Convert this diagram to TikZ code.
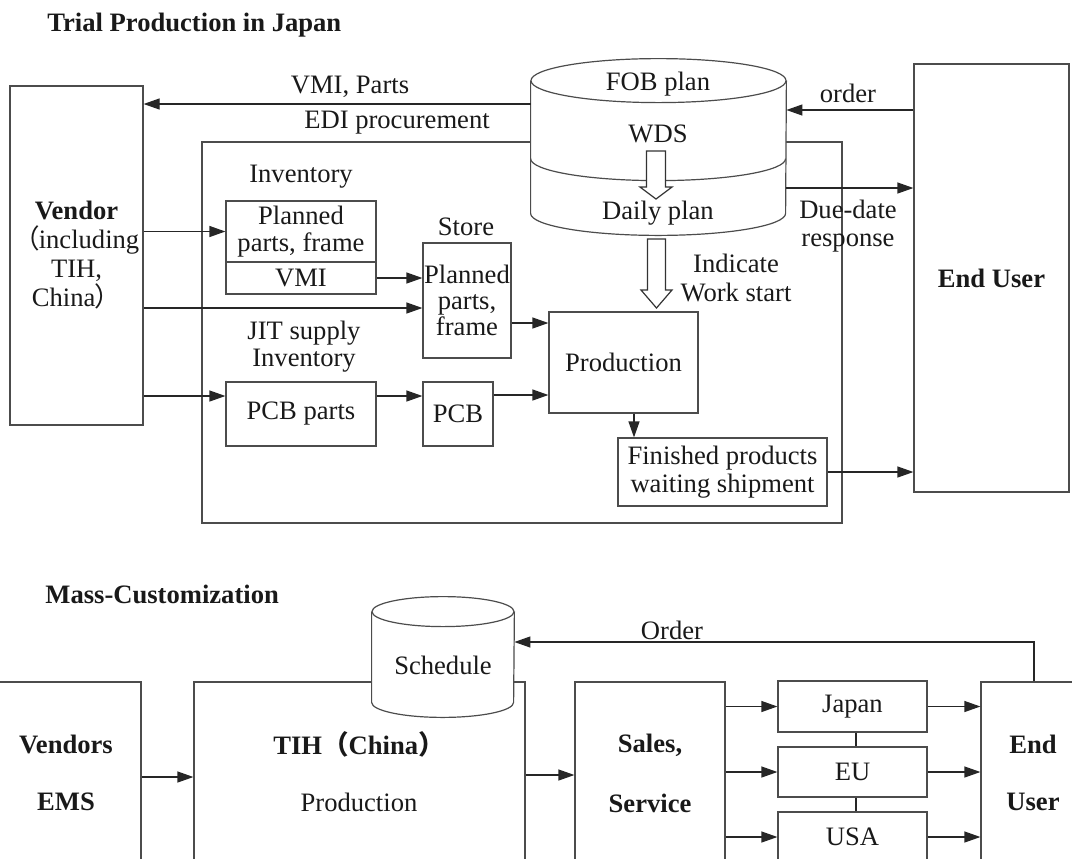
\documentclass[tikz,border=0pt]{standalone}
\usepackage{fontspec}
\setmainfont{Liberation Serif}
\newfontfamily\cjk{Noto Sans CJK SC}
\usetikzlibrary{arrows.meta,calc}

\begin{document}
\begin{tikzpicture}[x=0.5pt,y=-0.5pt,
  every node/.style={font=\fontsize{13.3pt}{13.6pt}\selectfont, inner sep=0pt, text=black!90},
  box/.style={draw=black!70, line width=0.6pt},
  hollow/.style={draw=black!80, line width=0.6pt, fill=white, line join=miter},
  conn/.style={draw=black!85, line width=0.6pt, -{Triangle[length=8pt,width=5.5pt]}},
  link/.style={draw=black!85, line width=0.6pt},
  heading/.style={anchor=west, font=\fontsize{13.3pt}{13.6pt}\selectfont\bfseries},
  spaced/.style={align=center, font=\fontsize{13.3pt}{#1}\selectfont}]

\useasboundingbox (0,0) rectangle (1072,858);
\clip (0,0) rectangle (1072,858);

% ---------------- Trial production in Japan ----------------
\node[heading] (title1) at (47,25) {Trial Production in Japan};

\node[box, minimum width=66.5pt, minimum height=169.5pt, spaced=14.5pt] (vendor) at (76.5,255.5)
  {\textbf{Vendor}\\{\cjk （}\kern-0.8pt including\\TIH,\\China\kern-0.5pt{\cjk ）}};
\node[box, minimum width=77.5pt, minimum height=214pt] (enduser) at (991.5,278) {\textbf{End User}};

% in-house area
\node[box, minimum width=320pt, minimum height=190.5pt] (frame) at (522,332.5) {};

% planning database (two stacked discs)
\node[minimum width=127.5pt, minimum height=66pt] (plandb) at (658.5,147) {};
\draw[box, fill=white] (plandb.north west) -- (plandb.south west)
  arc[start angle=180, end angle=360, x radius=63.75pt, y radius=11pt] -- (plandb.north east);
\draw[box, fill=white] (plandb.north) ellipse[x radius=63.75pt, y radius=11pt];
\draw[box] ([yshift=-39pt]plandb.north west)
  arc[start angle=180, end angle=360, x radius=63.75pt, y radius=11pt];
\node (fob) at (658,84) {FOB plan};
\node (wds) at (658,134) {WDS};
\node (daily) at (658,213) {Daily plan};

% block arrows
\draw[hollow] (646.5,151) -- (646.5,187) -- (640,187) -- (656,199) -- (672,187)
  -- (665.5,187) -- (665.5,151) -- cycle;
\draw[hollow] (647.5,239) -- (647.5,290) -- (641,290) -- (656.5,308) -- (672,290)
  -- (665.5,290) -- (665.5,239) -- cycle;

% stores
\node (invlbl) at (301,177) {Inventory};
\node[box, minimum width=75pt, minimum height=30.5pt, spaced=13.5pt] (invtop) at (301,231.5)
  {Planned\\parts, frame};
\node[box, minimum width=75pt, minimum height=16pt] (invvmi) at (301,278) {VMI};
\node (storelbl) at (466,227) {Store};
\node[box, minimum width=44pt, minimum height=57.5pt, spaced=13pt] (store) at (467,300.5)
  {Planned\\parts,\\frame};
\node[spaced=13.5pt] (jitlbl) at (304,346.5) {JIT supply\\Inventory};
\node[box, minimum width=75pt, minimum height=32pt] (pcbparts) at (301,414) {PCB parts};
\node[box, minimum width=35pt, minimum height=32pt] (pcb) at (458,414) {PCB};
\node[box, minimum width=74.5pt, minimum height=50.5pt] (production) at (623.5,362.5) {Production};
\node[box, minimum width=104.5pt, minimum height=34pt, spaced=14pt] (finished) at (722.5,472)
  {Finished products\\waiting shipment};

% labels
\node (vmiparts) at (350,87) {VMI, Parts};
\node (edi) at (397,123) {EDI procurement};
\node (orderlbl) at (848,93) {order};
\node[spaced=14pt] (duelbl) at (848,226) {Due-date\\response};
\node[spaced=14.5pt] (startlbl) at (736,277.5) {Indicate\\Work start};

% flows
\draw[conn] (plandb.west |- 0,104) -- (vendor.east |- 0,104);
\draw[conn] (enduser.west |- 0,110) -- (plandb.east |- 0,110);
\draw[conn] (plandb.east |- 0,188) -- (enduser.west |- 0,188);
\draw[conn] (vendor.east |- invtop.west) -- (invtop.west);
\draw[conn] (invvmi.east) -- (store.west |- invvmi.east);
\draw[conn] (vendor.east |- 0,308) -- (store.west |- 0,308);
\draw[conn] (vendor.east |- 0,396) -- (pcbparts.west |- 0,396);
\draw[conn] (pcbparts.east |- 0,396) -- (pcb.west |- 0,396);
\draw[conn] (store.east |- 0,323) -- (production.west |- 0,323);
\draw[conn] (pcb.east |- 0,395) -- (production.west |- 0,395);
\draw[conn] (production.south -| 634,0) -- (finished.north -| 634,0);
\draw[conn] (finished.east) -- (enduser.west |- finished.east);

% ---------------- Mass customization ----------------
\node[heading] (title2) at (45,594) {Mass-Customization};

\node[box, minimum width=75pt, minimum height=109pt] (vendors) at (66,791) {};
\node (vendorsA) at (66,744) {\textbf{Vendors}};
\node (vendorsB) at (66,802) {\textbf{EMS}};

\node[box, minimum width=165.5pt, minimum height=109pt] (tih) at (359.5,791) {};
\node (tihA) at (359,744) {\textbf{TIH{\cjk （}China{\cjk ）}}};
\node (tihB) at (359,802) {Production};

\node[minimum width=71pt, minimum height=45pt] (sched) at (443,657) {};
\draw[box, fill=white] (sched.north west) -- (sched.south west)
  arc[start angle=180, end angle=360, x radius=35.5pt, y radius=7.5pt] -- (sched.north east);
\draw[box, fill=white] (sched.north) ellipse[x radius=35.5pt, y radius=7.5pt];
\node (schedlbl) at (443,665) {Schedule};

\node[box, minimum width=75pt, minimum height=109pt] (sales) at (650,791) {};
\node (salesA) at (650,745) {\textbf{Sales,}};
\node (salesB) at (650,803) {\textbf{Service}};

\node[box, minimum width=74.5pt, minimum height=25.5pt] (japan) at (852.5,706.5) {Japan};
\node[box, minimum width=74.5pt, minimum height=25pt] (eu) at (852.5,772) {EU};
\node[box, minimum width=74.5pt, minimum height=25pt] (usa) at (852.5,837) {USA};

\node[box, minimum width=52pt, minimum height=109pt] (user2) at (1033,791) {};
\node (userA) at (1033,744) {\textbf{End}};
\node (userB) at (1033,802) {\textbf{User}};

\draw[conn] (vendors.east |- 0,777) -- (tih.west |- 0,777);
\draw[conn] (tih.east |- 0,775) -- (sales.west |- 0,775);
\draw[conn] (sales.east |- japan.west) -- (japan.west);
\draw[conn] (sales.east |- eu.west) -- (eu.west);
\draw[conn] (sales.east |- usa.west) -- (usa.west);
\draw[conn] (japan.east) -- (user2.west |- japan.east);
\draw[conn] (eu.east) -- (user2.west |- eu.east);
\draw[conn] (usa.east) -- (user2.west |- usa.east);
\draw[link] ([xshift=1.75pt]japan.south) -- ([xshift=1.75pt]eu.north);
\draw[link] ([xshift=1.75pt]eu.south) -- ([xshift=1.75pt]usa.north);

\coordinate (ordturn) at (1034,642);
\draw[conn] (user2.north -| ordturn) -- (ordturn) -- (sched.east |- ordturn);
\node (ordlbl) at (672,630) {Order};

\end{tikzpicture}
\end{document}
